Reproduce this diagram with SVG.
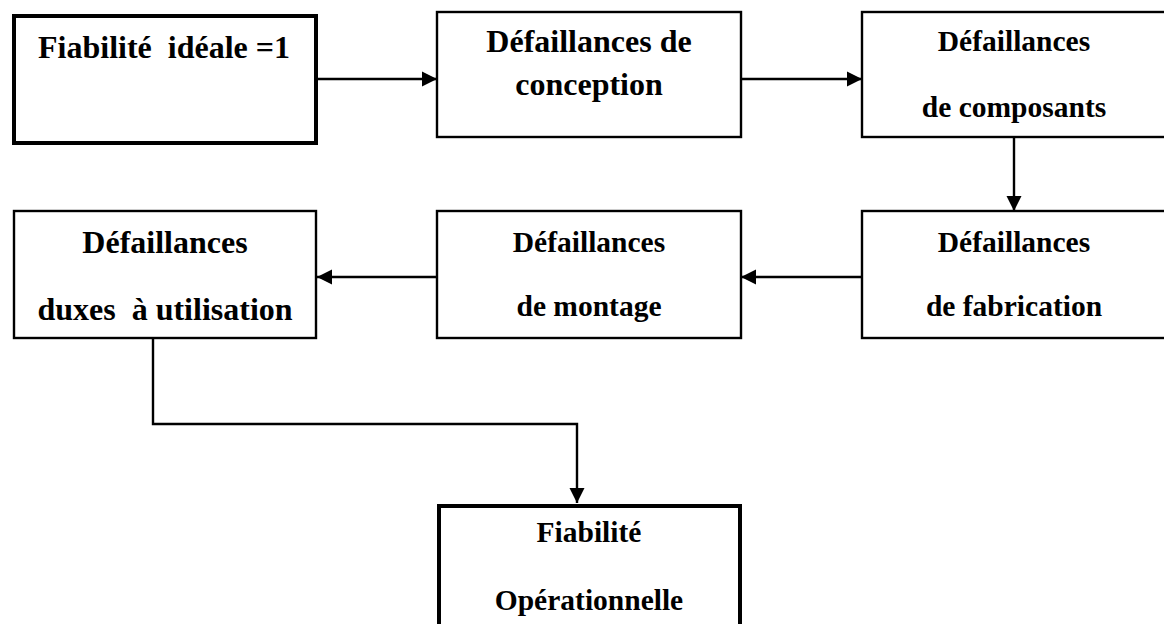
<svg xmlns="http://www.w3.org/2000/svg" width="1164" height="624" viewBox="0 0 1164 624">
  <style>
    .box { fill: #ffffff; stroke: #000000; stroke-width: 2.4; }
    .box-thick { fill: #ffffff; stroke: #000000; stroke-width: 4; }
    .label { font-family: "Liberation Serif", "Times New Roman", serif; font-weight: bold; font-size: 32px; fill: #000000; text-anchor: middle; }
    .label.small { font-size: 29.5px; }
    .link { fill: none; stroke: #000000; stroke-width: 2.4; }
  </style>
  <defs>
    <marker id="arrow" markerUnits="userSpaceOnUse" markerWidth="16" markerHeight="16" viewBox="0 0 16 16" refX="15" refY="8" orient="auto">
      <path d="M0,0.5 L15,8 L0,15.5 Z" fill="#000000"/>
    </marker>
  </defs>
  <rect width="1164" height="624" fill="#ffffff"/>

  <!-- connectors -->
  <g id="connectors">
    <path class="link" d="M316,79 H437" marker-end="url(#arrow)"/>
    <path class="link" d="M741,79 H862" marker-end="url(#arrow)"/>
    <path class="link" d="M1014,137 V211" marker-end="url(#arrow)"/>
    <path class="link" d="M862,277 H741" marker-end="url(#arrow)"/>
    <path class="link" d="M437,277 H317" marker-end="url(#arrow)"/>
    <path class="link" d="M153,338 V424 H577 V503" marker-end="url(#arrow)"/>
  </g>

  <g id="fiabilite-ideale">
    <rect class="box-thick" x="14" y="16" width="302" height="127"/>
    <text class="label" x="164" y="58" xml:space="preserve">Fiabilité  idéale =1</text>
  </g>

  <g id="defaillances-conception">
    <rect class="box" x="437" y="12" width="304" height="125"/>
    <text class="label" x="589" y="52">Défaillances de</text>
    <text class="label" x="589" y="95">conception</text>
  </g>

  <g id="defaillances-composants">
    <rect class="box" x="862" y="12" width="310" height="125"/>
    <text class="label small" x="1014" y="51">Défaillances</text>
    <text class="label small" x="1014" y="117">de composants</text>
  </g>

  <g id="defaillances-fabrication">
    <rect class="box" x="862" y="211" width="310" height="127"/>
    <text class="label small" x="1014" y="252">Défaillances</text>
    <text class="label small" x="1014" y="316">de fabrication</text>
  </g>

  <g id="defaillances-montage">
    <rect class="box" x="437" y="211" width="304" height="127"/>
    <text class="label small" x="589" y="252">Défaillances</text>
    <text class="label small" x="589" y="316">de montage</text>
  </g>

  <g id="defaillances-utilisation">
    <rect class="box" x="14" y="211" width="302" height="127"/>
    <text class="label" x="165" y="253">Défaillances</text>
    <text class="label" x="165" y="320" xml:space="preserve">duxes  à utilisation</text>
  </g>

  <g id="fiabilite-operationnelle">
    <rect class="box-thick" x="439" y="506" width="301" height="130"/>
    <text class="label small" x="589" y="542">Fiabilité</text>
    <text class="label small" x="589" y="610">Opérationnelle</text>
  </g>
</svg>
